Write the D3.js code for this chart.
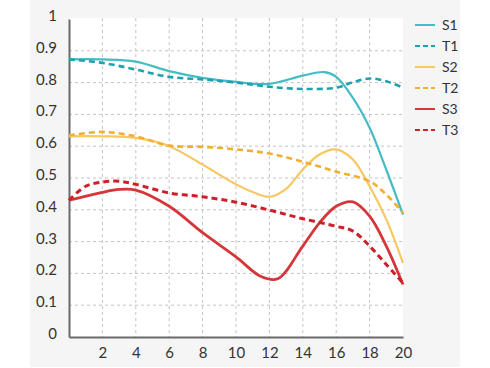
<!DOCTYPE html>
<html>
<head>
<meta charset="utf-8">
<script src="https://cdn.jsdelivr.net/npm/d3@7"></script>
<style>
  body { margin: 0; background: #fff; font-family: Lato, "Open Sans", sans-serif; }
</style>
</head>
<body>
<div id="chart"></div>
<script>
// series values, [x, y]
const s1 = [[0,0.873],[2,0.873],[4,0.866],[6,0.836],[8,0.815],[10,0.802],[12,0.796],[14,0.822],[15.3,0.833],[16,0.818],[17,0.752],[18,0.658],[19,0.526],[20,0.385]];
const t1 = [[0,0.873],[2,0.862],[4,0.841],[6,0.818],[8,0.81],[10,0.8],[12,0.787],[14,0.78],[16,0.784],[17,0.801],[18,0.813],[19,0.804],[20,0.784]];
const s2 = [[0,0.631],[2,0.631],[4,0.626],[6,0.6],[8,0.542],[10,0.48],[11,0.456],[12,0.441],[13,0.466],[14,0.527],[15,0.574],[16,0.59],[17,0.558],[18,0.474],[19,0.37],[20,0.233]];
const t2 = [[0,0.634],[2,0.645],[4,0.631],[6,0.602],[8,0.598],[10,0.59],[12,0.577],[14,0.551],[16,0.52],[18,0.49],[19,0.448],[20,0.39]];
const s3 = [[0,0.43],[2,0.455],[3,0.464],[4,0.462],[6,0.411],[8,0.328],[10,0.252],[11.5,0.19],[12.5,0.183],[14,0.286],[15,0.359],[16,0.411],[17,0.425],[18,0.38],[19,0.286],[20,0.165]];
const t3 = [[0,0.43],[1,0.474],[2,0.487],[3,0.49],[4,0.48],[6,0.453],[8,0.441],[10,0.424],[12,0.399],[14,0.372],[16,0.348],[17,0.333],[18,0.286],[19,0.228],[20,0.17]];

const names = ["S1", "T1", "S2", "T2", "S3", "T3"];
const values = [s1, t1, s2, t2, s3, t3];
const colors = ["#45bcc3", "#1fa2ad", "#f8c760", "#f3ae2f", "#d5363a", "#cc1f27"];
const dashed = [false, true, false, true, false, true];
const widths = [2.2, 2.6, 2.2, 2.6, 2.8, 3];

const xTicks = [2, 4, 6, 8, 10, 12, 14, 16, 18, 20];
const yTicks = [0, 0.1, 0.2, 0.3, 0.4, 0.5, 0.6, 0.7, 0.8, 0.9, 1];

const width = 490, height = 368;
const margin = {top: 19, right: 87, bottom: 31, left: 69};

const svg = d3.select("#chart").append("svg")
  .attr("width", width).attr("height", height);

// grey panel and white plot area
svg.append("rect").attr("x", 30).attr("y", 0).attr("width", 430).attr("height", 367).attr("fill", "#f5f5f5");
svg.append("rect")
  .attr("x", margin.left).attr("y", margin.top - 1)
  .attr("width", width - margin.left - margin.right)
  .attr("height", height - margin.top - margin.bottom + 1)
  .attr("fill", "#fff");

const x = d3.scaleLinear().domain([0, 20]).range([margin.left, width - margin.right]);
const y = d3.scaleLinear().domain([0, 1]).range([height - margin.bottom, margin.top]);

// grid
const grid = svg.append("g").attr("stroke", "#c4c4c4").attr("stroke-dasharray", "3,3").attr("stroke-width", 1);
grid.selectAll("line.v").data(xTicks.filter(d => d < 20)).enter().append("line")
  .attr("x1", d => x(d)).attr("x2", d => x(d))
  .attr("y1", y(1) - 1).attr("y2", y(0));
grid.selectAll("line.h").data(yTicks.filter(d => d > 0 && d < 1)).enter().append("line")
  .attr("x1", x(0)).attr("x2", x(20))
  .attr("y1", d => y(d)).attr("y2", d => y(d));

// axes
const xAxis = d3.axisBottom(x).tickValues(xTicks).tickSize(0).tickPadding(10).tickFormat(d3.format("d"));
const yAxis = d3.axisLeft(y).tickValues(yTicks).tickSize(0).tickPadding(12).tickFormat(d => d === 0 || d === 1 ? d : d3.format(".1f")(d));

const gx = svg.append("g").attr("transform", "translate(0," + y(0) + ")").call(xAxis);
const gy = svg.append("g").attr("transform", "translate(" + x(0) + ",0)").call(yAxis);
[gx, gy].forEach(g => {
  g.select(".domain").attr("stroke", "#6b6b6b").attr("stroke-width", 2);
  g.selectAll("text").attr("font-family", "Lato, sans-serif").attr("font-size", 15).attr("fill", "#333");
});
gy.selectAll("text").attr("dy", "0.1em");

// lines
const line = d3.line().x(d => x(d[0])).y(d => y(d[1])).curve(d3.curveCatmullRom.alpha(0.5));
svg.append("g").selectAll("path").data(values).enter().append("path")
  .attr("d", line)
  .attr("fill", "none")
  .attr("stroke", (d, i) => colors[i])
  .attr("stroke-width", (d, i) => widths[i])
  .attr("stroke-dasharray", (d, i) => dashed[i] ? "6,4" : null);

// legend
const legend = svg.append("g").attr("transform", "translate(415,25)");
const item = legend.selectAll("g").data(names).enter().append("g")
  .attr("transform", (d, i) => "translate(0," + i * 21 + ")");
item.append("line")
  .attr("x1", 0).attr("x2", 20)
  .attr("stroke", (d, i) => colors[i])
  .attr("stroke-width", 2)
  .attr("stroke-dasharray", (d, i) => dashed[i] ? "5,3" : null);
item.append("text")
  .attr("x", 27).attr("dy", "0.35em")
  .attr("font-family", "Lato, sans-serif").attr("font-size", 14).attr("fill", "#333")
  .text(d => d);
</script>
</body>
</html>
